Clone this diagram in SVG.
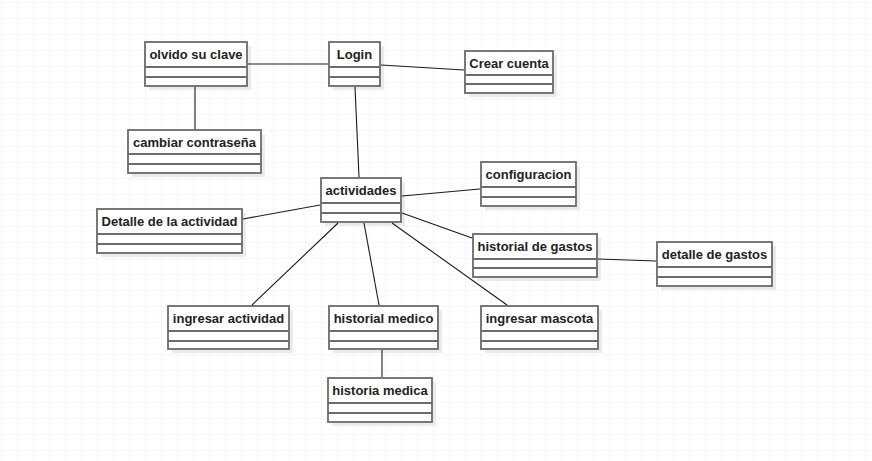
<svg xmlns="http://www.w3.org/2000/svg" width="872" height="461" viewBox="0 0 872 461">
<defs>
<pattern id="grid" x="1" y="2" width="16" height="16" patternUnits="userSpaceOnUse">
<path d="M0 0 H16 M0 0 V16" fill="none" stroke="#efefef" stroke-width="1"/>
</pattern>
<style>
.sh{fill:#ebebeb;}
.bx{fill:#fff;stroke:#6b6b6b;stroke-width:1.8;}
.ln{stroke:#6b6b6b;stroke-width:1.8;}
.t{font-family:"Liberation Sans",Arial,sans-serif;font-weight:bold;font-size:13px;fill:#222;text-anchor:middle;}
.c{stroke:#1a1a1a;stroke-width:1.1;fill:none;}
</style>
</defs>
<rect width="872" height="461" fill="#fff"/>
<rect width="872" height="461" fill="url(#grid)"/>
<g id="olvido">
<rect class="sh" x="149" y="46" width="102" height="44"/>
<rect class="bx" x="145" y="42" width="102" height="44"/>
<line class="ln" x1="145" y1="67" x2="247" y2="67"/><line class="ln" x1="145" y1="77" x2="247" y2="77"/>
<text class="t" x="196" y="59">olvido su clave</text>
</g>
<g id="login">
<rect class="sh" x="333" y="46" width="51" height="44"/>
<rect class="bx" x="329" y="42" width="51" height="44"/>
<line class="ln" x1="329" y1="67" x2="380" y2="67"/><line class="ln" x1="329" y1="77" x2="380" y2="77"/>
<text class="t" x="354.5" y="59">Login</text>
</g>
<g id="crear">
<rect class="sh" x="469" y="55" width="88" height="42"/>
<rect class="bx" x="465" y="51" width="88" height="42"/>
<line class="ln" x1="465" y1="75" x2="553" y2="75"/><line class="ln" x1="465" y1="84" x2="553" y2="84"/>
<text class="t" x="509" y="68">Crear cuenta</text>
</g>
<g id="cambiar">
<rect class="sh" x="132" y="134" width="133" height="43"/>
<rect class="bx" x="128" y="130" width="133" height="43"/>
<line class="ln" x1="128" y1="154" x2="261" y2="154"/><line class="ln" x1="128" y1="164" x2="261" y2="164"/>
<text class="t" x="194.5" y="147">cambiar contraseña</text>
</g>
<g id="actividades">
<rect class="sh" x="325" y="182" width="80" height="44"/>
<rect class="bx" x="321" y="178" width="80" height="44"/>
<line class="ln" x1="321" y1="203" x2="401" y2="203"/><line class="ln" x1="321" y1="213" x2="401" y2="213"/>
<text class="t" x="361" y="195">actividades</text>
</g>
<g id="configuracion">
<rect class="sh" x="485" y="166" width="95" height="44"/>
<rect class="bx" x="481" y="162" width="95" height="44"/>
<line class="ln" x1="481" y1="187" x2="576" y2="187"/><line class="ln" x1="481" y1="197" x2="576" y2="197"/>
<text class="t" x="528.5" y="179">configuracion</text>
</g>
<g id="detalle-actividad">
<rect class="sh" x="101" y="213" width="145" height="44"/>
<rect class="bx" x="97" y="209" width="145" height="44"/>
<line class="ln" x1="97" y1="234" x2="242" y2="234"/><line class="ln" x1="97" y1="244" x2="242" y2="244"/>
<text class="t" x="169.5" y="226">Detalle de la actividad</text>
</g>
<g id="historial-gastos">
<rect class="sh" x="477" y="238" width="124" height="43"/>
<rect class="bx" x="473" y="234" width="124" height="43"/>
<line class="ln" x1="473" y1="259" x2="597" y2="259"/><line class="ln" x1="473" y1="268" x2="597" y2="268"/>
<text class="t" x="535" y="251">historial de gastos</text>
</g>
<g id="detalle-gastos">
<rect class="sh" x="661" y="246" width="115" height="44"/>
<rect class="bx" x="657" y="242" width="115" height="44"/>
<line class="ln" x1="657" y1="267" x2="772" y2="267"/><line class="ln" x1="657" y1="277" x2="772" y2="277"/>
<text class="t" x="714.5" y="259">detalle de gastos</text>
</g>
<g id="ingresar-actividad">
<rect class="sh" x="172" y="310" width="121" height="43"/>
<rect class="bx" x="168" y="306" width="121" height="43"/>
<line class="ln" x1="168" y1="331" x2="289" y2="331"/><line class="ln" x1="168" y1="341" x2="289" y2="341"/>
<text class="t" x="228.5" y="323">ingresar actividad</text>
</g>
<g id="historial-medico">
<rect class="sh" x="333" y="310" width="109" height="43"/>
<rect class="bx" x="329" y="306" width="109" height="43"/>
<line class="ln" x1="329" y1="331" x2="438" y2="331"/><line class="ln" x1="329" y1="341" x2="438" y2="341"/>
<text class="t" x="383.5" y="323">historial medico</text>
</g>
<g id="ingresar-mascota">
<rect class="sh" x="485" y="310" width="117" height="43"/>
<rect class="bx" x="481" y="306" width="117" height="43"/>
<line class="ln" x1="481" y1="331" x2="598" y2="331"/><line class="ln" x1="481" y1="341" x2="598" y2="341"/>
<text class="t" x="539.5" y="323">ingresar mascota</text>
</g>
<g id="historia-medica">
<rect class="sh" x="332" y="382" width="104" height="44"/>
<rect class="bx" x="328" y="378" width="104" height="44"/>
<line class="ln" x1="328" y1="403" x2="432" y2="403"/><line class="ln" x1="328" y1="413" x2="432" y2="413"/>
<text class="t" x="380" y="395">historia medica</text>
</g>
<g id="connectors">
<line class="c" x1="248" y1="64" x2="328" y2="64"/>
<line class="c" x1="195" y1="87" x2="195" y2="129"/>
<line class="c" x1="381" y1="65" x2="464" y2="70"/>
<line class="c" x1="355" y1="87" x2="359" y2="177"/>
<line class="c" x1="402" y1="196" x2="480" y2="189"/>
<line class="c" x1="243" y1="219" x2="320" y2="205"/>
<line class="c" x1="402" y1="213" x2="472" y2="238"/>
<line class="c" x1="598" y1="259" x2="656" y2="261"/>
<line class="c" x1="338" y1="223" x2="252" y2="305"/>
<line class="c" x1="364" y1="223" x2="379" y2="305"/>
<line class="c" x1="392" y1="223" x2="507" y2="305"/>
<line class="c" x1="382" y1="350" x2="382" y2="377"/>
</g>
</svg>
